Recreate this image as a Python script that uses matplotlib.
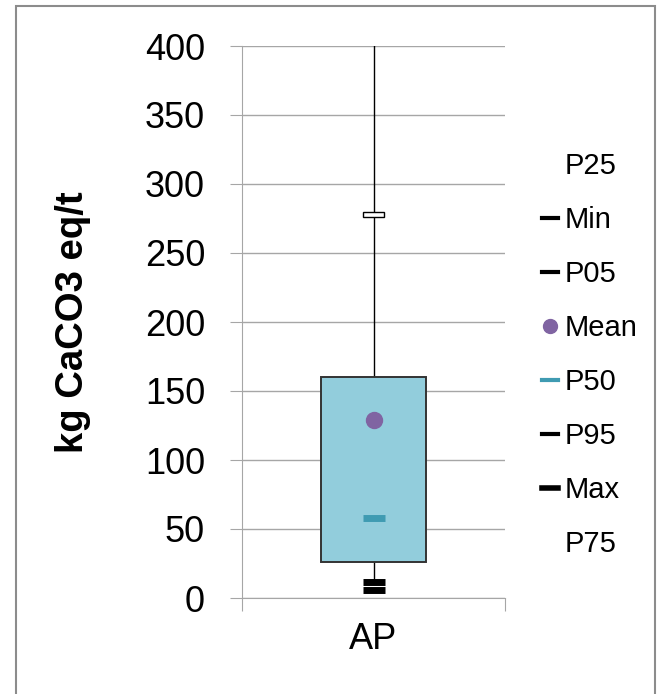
import matplotlib.pyplot as plt
from matplotlib.lines import Line2D
from matplotlib.patches import Rectangle

plt.rcParams['font.family'] = ['Liberation Sans', 'DejaVu Sans']

category = "AP"
p25 = 26
p75 = 160
p_min = 5.5
p05 = 11.5
mean = 129
p50 = 58
p95 = 278
p_max = 400
yticks = [0, 50, 100, 150, 200, 250, 300, 350, 400]

box_color = "#92CDDC"
mean_color = "#8064A2"
median_color = "#3F9BB2"
grid_color = "#A6A6A6"

fig = plt.figure(figsize=(6.62, 6.94), dpi=100)
ax = fig.add_axes([242 / 662, 1 - 598 / 694, 263 / 662, 552 / 694])

# outer chart frame
fig.patches.append(Rectangle((16 / 662, -0.05), 639 / 662, 1.05 - 6 / 694,
                             transform=fig.transFigure, fill=False,
                             edgecolor="#8C8C8C", lw=1.5))

x0 = 0.5
half = 0.2
ax.plot([x0, x0], [p75, p_max], color="black", lw=1, zorder=2)
ax.plot([x0, x0], [p05, p25], color="black", lw=1, zorder=2)
ax.add_patch(Rectangle((x0 - half, p25), 2 * half, p75 - p25,
                       facecolor=box_color, edgecolor="#333333", lw=1.4, zorder=3))

# percentile markers
ax.add_patch(Rectangle((x0 - 0.04, p95 - 1.8), 0.08, 3.6, facecolor="white",
                       edgecolor="black", lw=1, zorder=4))
ax.plot([x0], [p_min], marker="_", ms=16.5, mew=5, color="black", zorder=4)
ax.plot([x0], [p05], marker="_", ms=16.5, mew=5, color="black", zorder=4)
ax.plot([x0], [p50], marker="_", ms=16, mew=5, color=median_color, zorder=4)
ax.plot([x0], [mean], marker="o", ms=11.5, color=mean_color, mec=mean_color, zorder=5)

ax.set_xlim(0, 1)
ax.set_ylim(0, 400)
ax.set_yticks(yticks)
ax.tick_params(axis="y", labelsize=26, length=8.6, color=grid_color, pad=18)
ax.set_xticks([0, 1])
ax.set_xticklabels(["", ""])
ax.set_xticks([0.5], [category], minor=True)
ax.tick_params(axis="x", which="major", length=9, color=grid_color)
ax.tick_params(axis="x", which="minor", length=0, labelsize=26, pad=17.5)
ax.grid(axis="y", color=grid_color, lw=1)
ax.set_axisbelow(True)
for side in ("top", "right"):
    ax.spines[side].set_visible(False)
for side in ("left", "bottom"):
    ax.spines[side].set_color(grid_color)
ax.set_ylabel("kg CaCO3 eq/t", fontsize=27.5, fontweight="bold")
ax.yaxis.set_label_coords(-0.575, 0.5)

handles = [
    Line2D([], [], linestyle="none"),
    Line2D([], [], color="black", lw=3),
    Line2D([], [], color="black", lw=3),
    Line2D([], [], linestyle="none", marker="o", ms=10, color=mean_color),
    Line2D([], [], color=median_color, lw=3),
    Line2D([], [], color="black", lw=3),
    Line2D([], [], color="black", lw=4),
    Line2D([], [], linestyle="none"),
]
labels = ["P25", "Min", "P05", "Mean", "P50", "P95", "Max", "P75"]
fig.legend(handles, labels, loc="upper left", bbox_to_anchor=(0.818, 0.781),
           frameon=False, fontsize=21, handlelength=0.58, handletextpad=0.2,
           labelspacing=0.89, borderpad=0, borderaxespad=0)

fig.savefig("out.png", dpi=100)
